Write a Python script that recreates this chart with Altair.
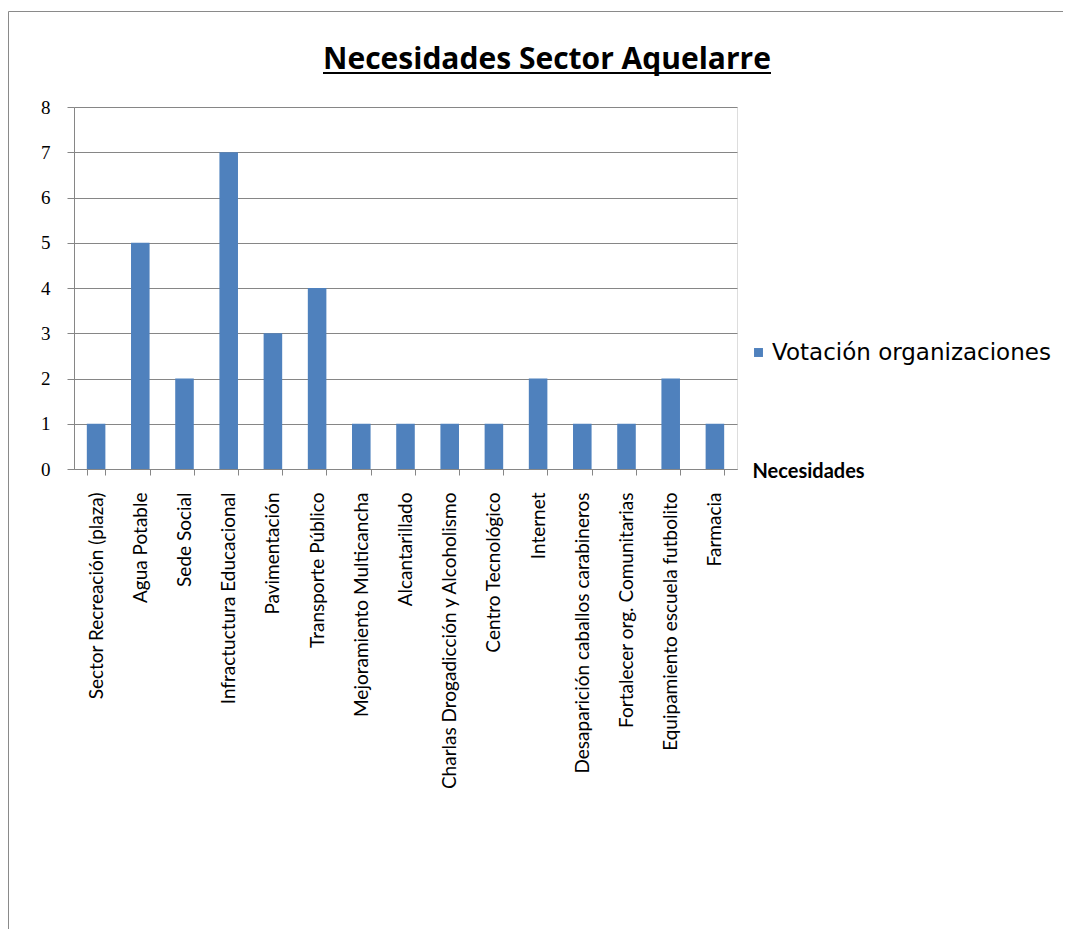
import altair as alt
import pandas as pd

categorias = [
    "Sector Recreación (plaza)", "Agua Potable", "Sede Social",
    "Infractuctura Educacional", "Pavimentación", "Transporte Público",
    "Mejoramiento Multicancha", "Alcantarillado",
    "Charlas Drogadicción y Alcoholismo", "Centro Tecnológico", "Internet",
    "Desaparición caballos carabineros", "Fortalecer org. Comunitarias",
    "Equipamiento escuela futbolito", "Farmacia",
]
votos = [1, 5, 2, 7, 3, 4, 1, 1, 1, 1, 2, 1, 1, 2, 1]
serie = "Votación organizaciones"
titulo = "Necesidades Sector Aquelarre"
y_ticks = [0, 1, 2, 3, 4, 5, 6, 7, 8]

df = pd.DataFrame({"Necesidad": categorias, "Votos": votos, "Serie": [serie] * len(votos)})

W, H = 663, 362
GRID = "#868686"

bars = alt.Chart(df).mark_bar(color="#4F81BD").encode(
    x=alt.X(
        "Necesidad:N", sort=None,
        scale=alt.Scale(paddingInner=0.58, paddingOuter=0.29),
        axis=alt.Axis(
            title="Necesidades", titleAngle=0, titleAlign="left", titleBaseline="middle",
            titleX=W + 15, titleY=2, titleFont="Lato", titleFontSize=20, titleFontWeight="bold",
            titleColor="#000000",
            labelAngle=-90, labelAlign="right", labelBaseline="middle",
            labelFont="Lato", labelFontSize=19, labelColor="#000000", labelPadding=17,
            labelLimit=400,
            tickBand="extent", tickSize=6, tickColor=GRID, domainColor=GRID, grid=False,
        ),
    ),
    y=alt.Y(
        "Votos:Q", scale=alt.Scale(domain=[0, 8], nice=False),
        axis=alt.Axis(
            title=None, values=y_ticks, tickSize=7, tickColor=GRID, domainColor=GRID,
            gridColor=GRID, gridOpacity=1, labelFont="Liberation Serif", labelFontSize=19,
            labelColor="#000000", labelPadding=17,
        ),
    ),
    color=alt.Color(
        "Serie:N", scale=alt.Scale(range=["#4F81BD"]),
        legend=alt.Legend(
            title=None, orient="none", legendX=W + 10, legendY=234,
            symbolType="square", symbolSize=80, symbolStrokeWidth=0, labelOffset=2,
            labelFont="DejaVu Sans", labelFontSize=23, labelColor="#000000", labelLimit=400,
        ),
    ),
)

one_df = pd.DataFrame({"k": [0]})
frame = alt.Chart(one_df).mark_rect(fill=None, stroke="#8a8a8a", strokeWidth=1, clip=False).encode(
    x=alt.value(-65.5), x2=alt.value(1000), y=alt.value(-95.5), y2=alt.value(1000)
)
title_text = alt.Chart(one_df).mark_text(
    text=titulo, font="Open Sans", fontSize=30, fontWeight="bold", color="#000000",
    align="center", baseline="alphabetic",
).encode(x=alt.value(473), y=alt.value(-38))
underline = alt.Chart(one_df).mark_rule(color="#000000", strokeWidth=2).encode(
    x=alt.value(249), x2=alt.value(697), y=alt.value(-34)
)

chart = alt.layer(frame, bars, title_text, underline).properties(
    width=W, height=H,
    autosize=alt.AutoSizeParams(type="none"),
    padding={"left": 66, "top": 99, "right": 326, "bottom": 460},
).configure_view(stroke=None).configure(background="#ffffff")

chart.save("out.html", embed_options={"renderer": "svg", "actions": False})
